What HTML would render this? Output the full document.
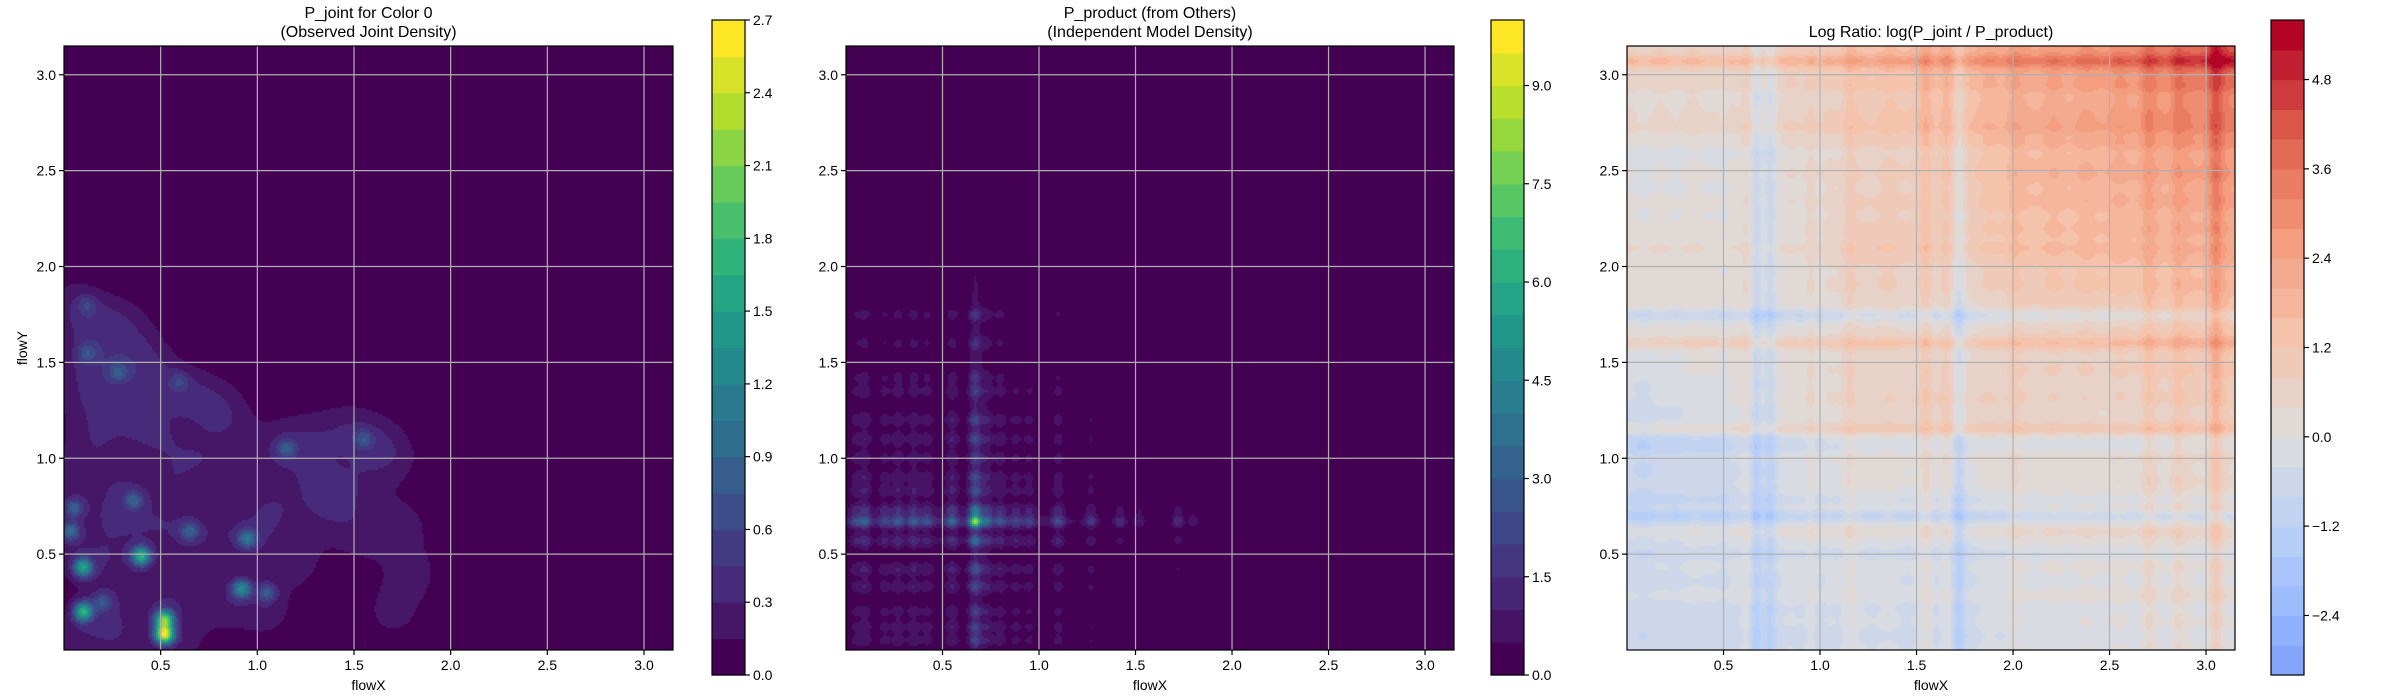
<!DOCTYPE html>
<html><head><meta charset="utf-8">
<style>
html,body{margin:0;padding:0;background:#fff;}
#root{position:relative;width:2400px;height:700px;overflow:hidden;font-family:"Liberation Sans","DejaVu Sans",sans-serif;}
canvas{position:absolute;}
svg{position:absolute;left:0;top:0;}
</style></head>
<body>
<div id="root">
<canvas id="c1"></canvas>
<canvas id="c2"></canvas>
<canvas id="c3"></canvas>
<svg id="ov" width="2400" height="700"></svg>
</div>
<script>
// ---------- data ----------
const jointBroadX = [0.05,0.15,0.3,0.1,0.25,0.45,0.6,0.75,0.85,0.35,0.15,0.5,0.7,0.05,0.3,0.55,0.9,1.1,1.25,1.45,1.6,1.7,1.3,1.5,1.1,1.35,1.55,1.75,1.8,1.2,1.0,0.8,0.6,0.4,0.2,0.05,0.25,0.45,0.65,0.85,1.05,0.2,0.05,0.3,0.6,1.7,0.12,0.4];
const jointBroadY = [1.8,1.7,1.7,1.5,1.45,1.4,1.35,1.3,1.2,1.2,1.1,1.1,1.0,0.9,0.9,0.85,0.9,1.05,1.1,1.15,1.1,1.0,0.9,0.85,0.75,0.7,0.6,0.65,0.4,0.45,0.6,0.6,0.6,0.65,0.7,0.5,0.45,0.3,0.3,0.25,0.2,0.2,0.05,0.05,0.05,0.2,1.3,1.55];
const jointPeakX = [0.52,0.52,0.1,0.1,0.4,0.92,0.95,0.03,0.05,0.36,0.65,0.2,1.05,1.15,1.55,0.12,0.28,0.12,0.6];
const jointPeakY = [0.08,0.16,0.2,0.43,0.49,0.32,0.58,0.62,0.74,0.78,0.62,0.25,0.3,1.05,1.1,1.55,1.45,1.8,1.4];
const jointPeakAmp = [2.3,1.8,1.5,1.3,1.5,1.1,0.8,0.8,0.7,0.6,0.6,0.5,0.6,0.5,0.4,0.4,0.4,0.3,0.3];
const jointLevels = [0,0.15,0.3,0.45,0.6,0.75,0.9,1.05,1.2,1.35,1.5,1.65,1.8,1.95,2.1,2.25,2.4,2.55,2.7];
const jointTicks = [0.0,0.3,0.6,0.9,1.2,1.5,1.8,2.1,2.4,2.7];

const margXPos = [0.05,0.1,0.2,0.27,0.35,0.42,0.55,0.67,0.73,0.8,0.88,0.95,1.1,1.27,1.42,1.52,1.72,1.8];
const margXAmp = [0.6,0.9,0.6,0.8,0.8,0.6,0.9,2.6,1.0,0.7,0.5,0.5,0.7,0.5,0.4,0.3,0.5,0.3];
const margYPos = [0.05,0.12,0.2,0.33,0.42,0.57,0.67,0.73,0.83,0.9,1.0,1.1,1.2,1.35,1.42,1.6,1.75];
const margYAmp = [0.6,0.6,0.5,0.6,0.7,1.0,2.6,1.1,0.6,0.5,0.4,0.5,0.5,0.4,0.3,0.3,0.4];
const productLevels = [0,0.5,1,1.5,2,2.5,3,3.5,4,4.5,5,5.5,6,6.5,7,7.5,8,8.5,9,9.5,10];
const productTicks = [0.0,1.5,3.0,4.5,6.0,7.5,9.0];

const ratioNodes = [0.1,0.5,0.9,1.3,1.7,2.1,2.5,2.9,3.1];
const ratioGrid = [
 [-0.7,-0.5,-0.5,-0.4,-0.5,-0.2,-0.1,0.0,0.0],
 [-0.5,-0.2,-0.2,-0.2,-0.4,0.0,0.1,0.1,0.2],
 [-0.8,-0.5,-0.2,0.1,-0.1,0.2,0.2,0.4,0.5],
 [-0.5,0.0,0.2,0.7,0.8,0.7,0.6,0.9,1.1],
 [0.2,0.3,0.1,0.6,0.2,0.8,0.9,1.3,1.6],
 [0.2,0.2,0.2,1.0,0.8,1.4,1.6,1.8,2.2],
 [-0.1,0.1,0.3,0.8,1.0,1.8,2.0,2.4,2.8],
 [0.5,0.6,0.7,1.3,1.6,2.2,2.5,3.2,3.6],
 [0.8,0.8,1.0,1.6,2.0,2.6,3.0,3.8,4.6]];
const stripeXPos = [0.67,0.74,1.72,0.5,1.0,1.15,1.55,1.65,3.05,2.7,2.85,2.0,0.62,0.95];
const stripeXAmp = [-1.0,-0.8,-1.0,-0.3,-0.2,0.4,0.5,0.4,0.8,0.4,0.4,0.3,0.3,0.3];
const stripeYPos = [3.07,2.72,1.6,1.15,2.1,0.62,0.28,1.75,1.72,0.7,0.78,1.05,1.1,2.9,0.5,2.6];
const stripeYAmp = [0.8,0.4,0.7,0.6,0.3,0.4,0.2,-0.9,-0.3,-0.8,-0.3,-0.5,-0.4,-0.3,-0.3,-0.3];
const ratioLevels = [-3.2,-2.8,-2.4,-2.0,-1.6,-1.2,-0.8,-0.4,0,0.4,0.8,1.2,1.6,2.0,2.4,2.8,3.2,3.6,4.0,4.4,4.8,5.2,5.6];
const ratioTicks = [-2.4,-1.2,0.0,1.2,2.4,3.6,4.8];

const axisTicks = [0.5,1.0,1.5,2.0,2.5,3.0];

// ---------- helpers ----------
const NS='http://www.w3.org/2000/svg';
const ov=document.getElementById('ov');
const T=46,B=650,XMIN=0,XMAX=3.15;
const panels=[{L:64,R:673,cb:712},{L:846,R:1454,cb:1491},{L:1627,R:2235,cb:2271}];
const CBT=20,CBB=675,CBW=33;
const VIR=[[68,1,84],[72,40,120],[62,73,137],[49,104,142],[38,130,142],[31,158,137],[53,183,121],[110,206,88],[181,222,43],[253,231,37]];
const CW=[[59,76,192],[98,130,234],[141,176,254],[184,208,249],[221,221,221],[245,196,173],[244,154,123],[222,96,77],[180,4,38]];
function interp(st,t){t=Math.max(0,Math.min(1,t));const n=st.length-1;const f=t*n;const i=Math.min(n-1,Math.floor(f));const u=f-i;
 const a=st[i],b=st[i+1];return 'rgb('+[0,1,2].map(k=>Math.round(a[k]+(b[k]-a[k])*u)).join(',')+')';}
function g(d,s){return Math.exp(-d*d/(2*s*s));}
function el(tag,attrs,parent){const e=document.createElementNS(NS,tag);for(const k in attrs)e.setAttribute(k,attrs[k]);(parent||ov).appendChild(e);return e;}
function txt(x,y,s,size,anchor,parent){const t=el('text',{x:x,y:y,'font-size':size,'text-anchor':anchor||'middle',fill:'#000','font-family':'Liberation Sans, DejaVu Sans, sans-serif'},parent);t.textContent=s;return t;}

function jointF(x,y){let v=0;
 for(let i=0;i<jointBroadX.length;i++){const dx=x-jointBroadX[i],dy=y-jointBroadY[i];v+=0.2*Math.exp(-(dx*dx+dy*dy)/(2*0.11*0.11));}
 v=Math.min(v,0.5);
 for(let i=0;i<jointPeakX.length;i++){const dx=x-jointPeakX[i],dy=y-jointPeakY[i];v+=jointPeakAmp[i]*Math.exp(-(dx*dx+dy*dy)/(2*0.035*0.035));}
 return v;}
function marg(p,a,x,base,ext){let v=base*g(x-ext/2,ext/2.2);for(let i=0;i<p.length;i++)v+=a[i]*g(x-p[i],0.022);return v;}
function productF(x,y){return marg(margXPos,margXAmp,x,0.4,1.1)*marg(margYPos,margYAmp,y,0.4,1.8)*0.95;}
function bil(x,y){const n=ratioNodes;function idx(v){let i=0;while(i<n.length-2&&v>n[i+1])i++;let u=(v-n[i])/(n[i+1]-n[i]);u=Math.max(0,Math.min(1,u));return [i,u];}
 const [i,u]=idx(x),[j,w]=idx(y);const G=ratioGrid;
 return (G[j][i]*(1-u)+G[j][i+1]*u)*(1-w)+(G[j+1][i]*(1-u)+G[j+1][i+1]*u)*w;}
function ratioF(x,y){let v=bil(x,y);
 for(let i=0;i<stripeXPos.length;i++)v+=stripeXAmp[i]*g(x-stripeXPos[i],0.022);
 for(let i=0;i<stripeYPos.length;i++)v+=stripeYAmp[i]*g(y-stripeYPos[i],0.022);
 const sx=Math.max(0,x-1.8),sy=Math.max(0,y-1.8);v+=0.15*(Math.cos(x*37)+Math.cos(y*43))*(0.4+0.3*(sx+sy));
 return v;}

function bandColor(levels,v,mode){let k=-1;for(let i=0;i<levels.length-1;i++){if(v>=levels[i])k=i;}
 if(k<0)k=0;if(k>levels.length-2)k=levels.length-2;
 if(mode==='vir')return interp(VIR,k/(levels.length-2));
 const mid=(levels[k]+levels[k+1])/2;return interp(CW,(mid+5.4)/10.8);}

function drawHeat(id,p,f,levels,mode){const c=document.getElementById(id);const W=p.R-p.L,H=B-T;
 c.width=W;c.height=H;c.style.left=p.L+'px';c.style.top=T+'px';const ctx=c.getContext('2d');const s=2;
 for(let py=0;py<H;py+=s){const y=XMAX-(py+s/2)/H*(XMAX-XMIN);
  for(let px=0;px<W;px+=s){const x=XMIN+(px+s/2)/W*(XMAX-XMIN);
   ctx.fillStyle=bandColor(levels,f(x,y),mode);ctx.fillRect(px,py,s,s);}}}

drawHeat('c1',panels[0],jointF,jointLevels,'vir');
drawHeat('c2',panels[1],productF,productLevels,'vir');
drawHeat('c3',panels[2],ratioF,ratioLevels,'cw');

function axes(p,idx,titleLines,ylabel){const g0=el('g',{});
 
 const sx=v=>p.L+(v-XMIN)/(XMAX-XMIN)*(p.R-p.L);
 const sy=v=>B-(v-XMIN)/(XMAX-XMIN)*(B-T);
 axisTicks.forEach(t=>{
  const gx=el('line',{x1:sx(t),x2:sx(t),y1:T,y2:B,stroke:'#b0b0b0','stroke-width':1.2},g0);
  
  const gy=el('line',{x1:p.L,x2:p.R,y1:sy(t),y2:sy(t),stroke:'#b0b0b0','stroke-width':1.2},g0);
  
  el('line',{x1:sx(t),x2:sx(t),y1:B,y2:B+5,stroke:'#000','stroke-width':1.2},g0);
  el('line',{x1:p.L-5,x2:p.L,y1:sy(t),y2:sy(t),stroke:'#000','stroke-width':1.2},g0);
  const xl=txt(sx(t),B+20,t.toFixed(1),14,'middle',g0);
  const yl=txt(p.L-8,sy(t)+5,t.toFixed(1),14,'end',g0);
 });
 const fr=el('rect',{x:p.L,y:T,width:p.R-p.L,height:B-T,fill:'none',stroke:'#000','stroke-width':1.2},g0);
 
 const cx=(p.L+p.R)/2;
 titleLines.forEach((s,i)=>{const t=txt(cx,titleLines.length===2?(18+i*19):37,s,16,'middle',g0);});
 const xlab=txt(cx,690,'flowX',14,'middle',g0);
 if(ylabel){const yt=txt(0,0,'flowY',14,'middle',g0);yt.setAttribute('transform','translate(27,'+((T+B)/2)+') rotate(-90)');}
}
function colorbar(p,levels,ticks,mode,name){const g0=el('g',{});
 
 const lo=levels[0],hi=levels[levels.length-1];const sy=v=>CBB-(v-lo)/(hi-lo)*(CBB-CBT);
 for(let k=0;k<levels.length-1;k++){const col=mode==='vir'?interp(VIR,k/(levels.length-2)):interp(CW,((levels[k]+levels[k+1])/2+5.4)/10.8);
  const r=el('rect',{x:p.cb,y:sy(levels[k+1]),width:CBW,height:sy(levels[k])-sy(levels[k+1])+0.6,fill:col},g0);
  }
 el('rect',{x:p.cb,y:CBT,width:CBW,height:CBB-CBT,fill:'none',stroke:'#000','stroke-width':1.2},g0);
 ticks.forEach(t=>{el('line',{x1:p.cb+CBW,x2:p.cb+CBW+5,y1:sy(t),y2:sy(t),stroke:'#000','stroke-width':1.2},g0);
  const l=txt(p.cb+CBW+8,sy(t)+5,t<0?'\u2212'+Math.abs(t).toFixed(1):t.toFixed(1),14,'start',g0);});
}
axes(panels[0],0,['P_joint for Color 0','(Observed Joint Density)'],true);
axes(panels[1],1,['P_product (from Others)','(Independent Model Density)'],false);
axes(panels[2],2,['Log Ratio: log(P_joint / P_product)'],false);
colorbar(panels[0],jointLevels,jointTicks,'vir','joint-colorbar');
colorbar(panels[1],productLevels,productTicks,'vir','product-colorbar');
colorbar(panels[2],ratioLevels,ratioTicks,'cw','ratio-colorbar');
</script>
</body></html>
